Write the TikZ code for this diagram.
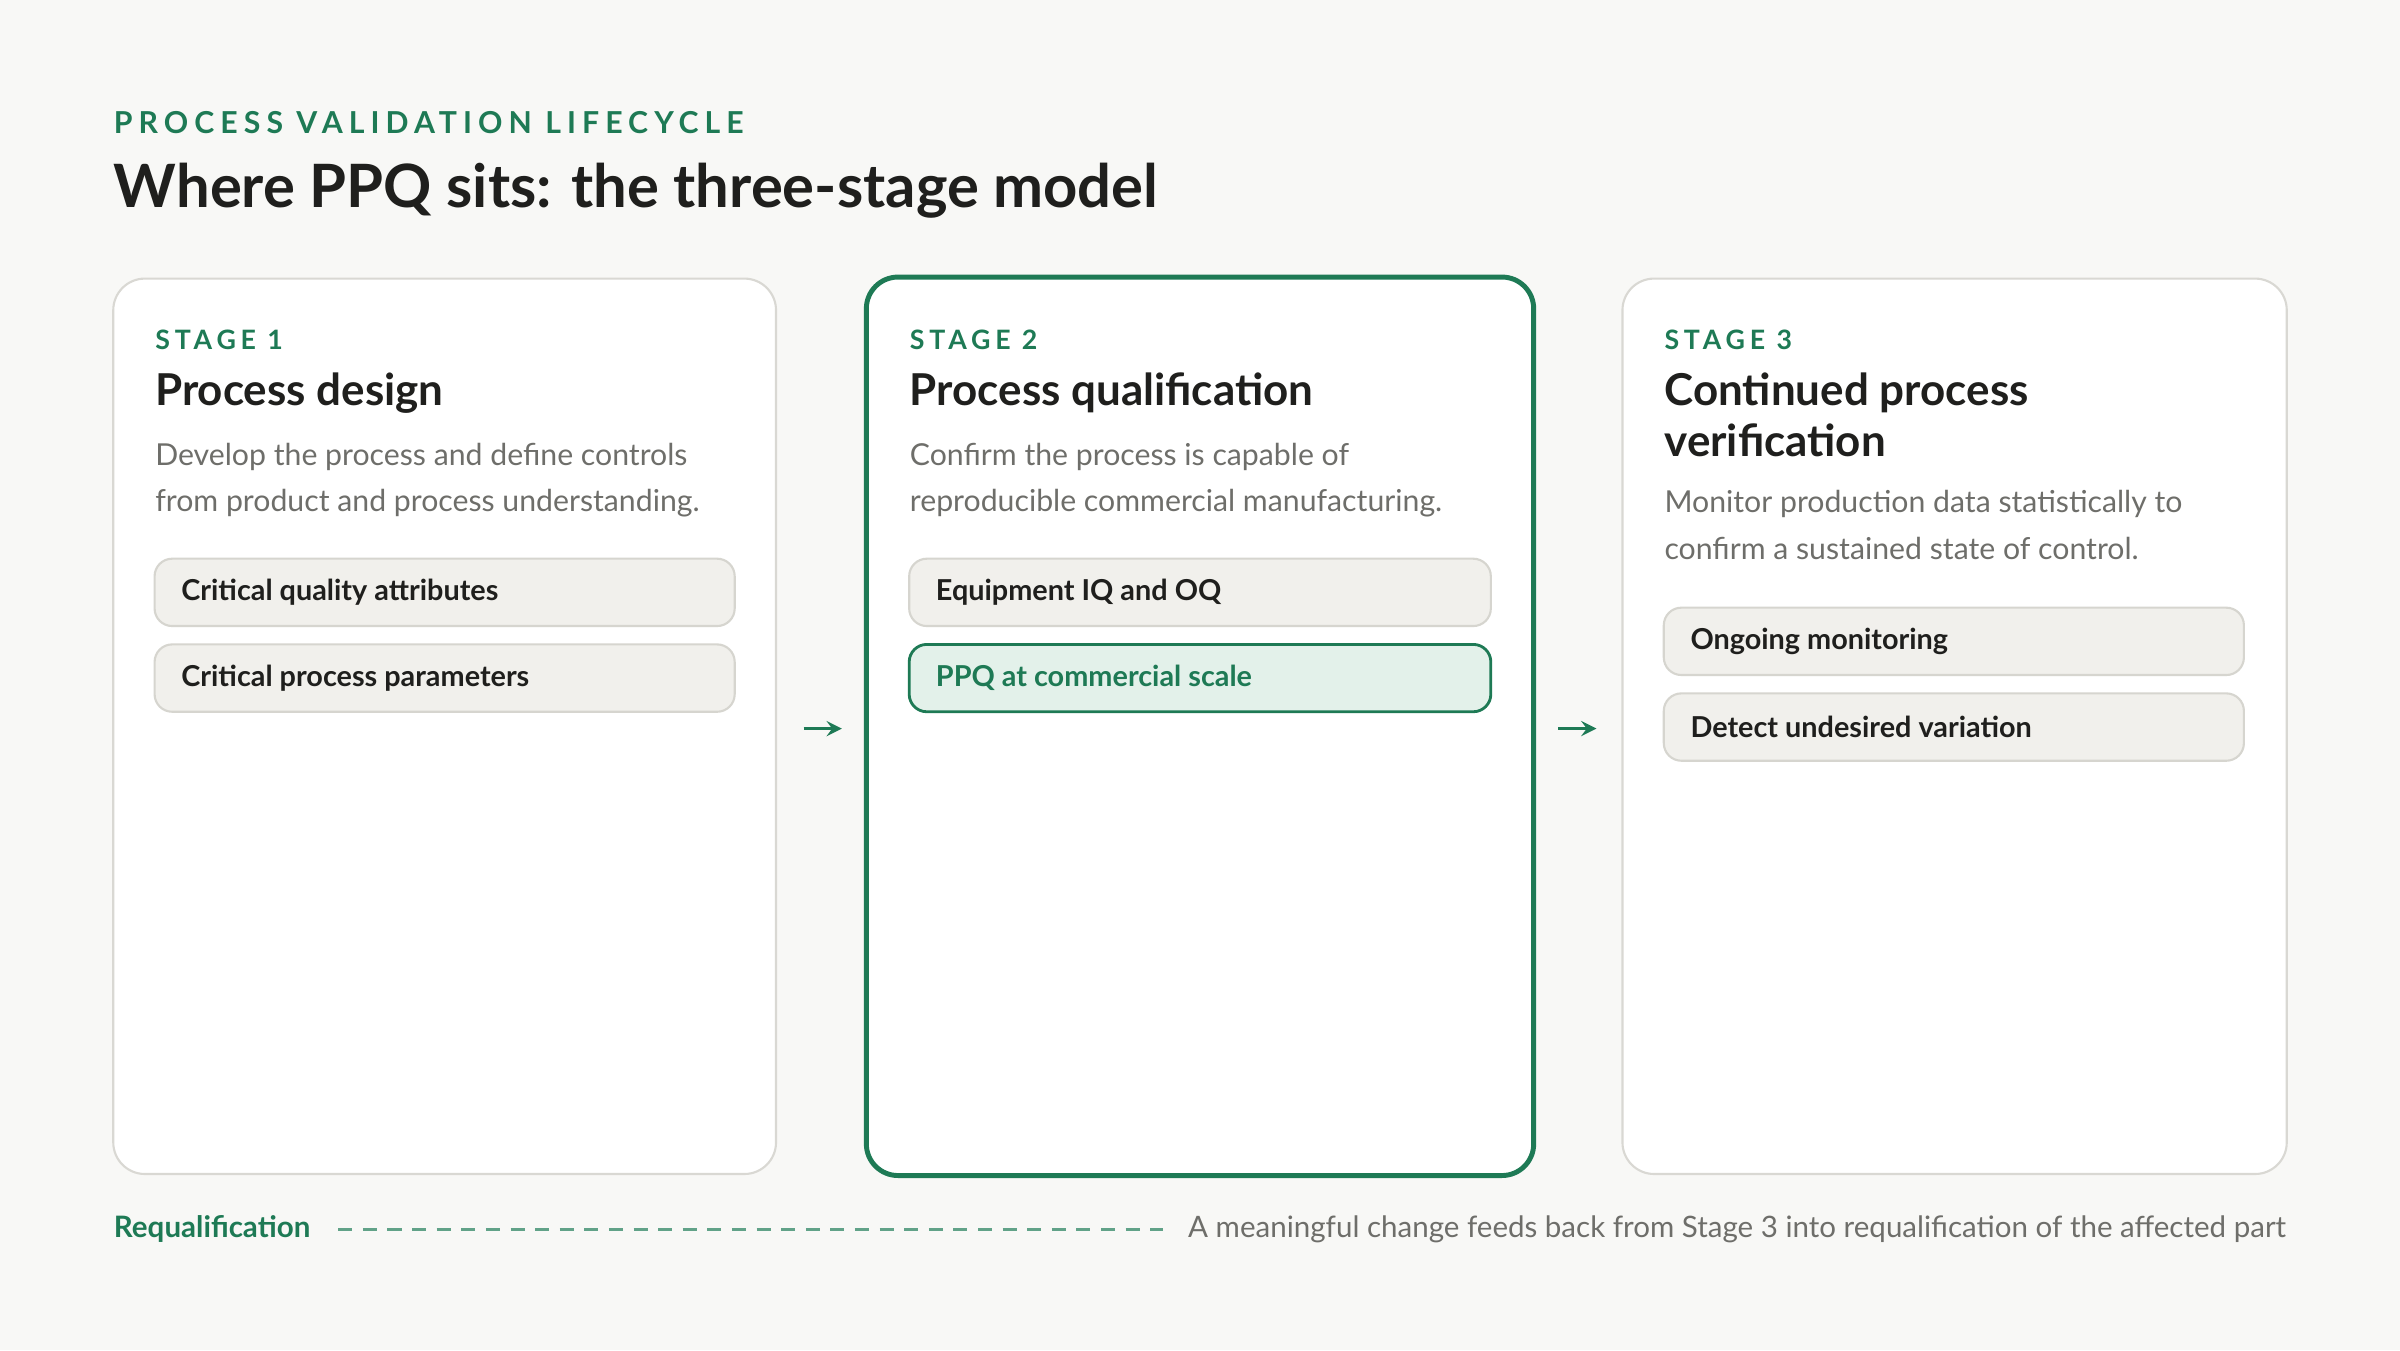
\documentclass[tikz,border=0pt]{standalone}
\usepackage{fontspec}
\setmainfont{Lato}
\usetikzlibrary{positioning}
\definecolor{bgpaper}{HTML}{F8F8F6}
\definecolor{pvgreen}{HTML}{1E7A55}
\definecolor{pvgray}{HTML}{6E6E6A}
\definecolor{pvink}{HTML}{1F1F1D}
\definecolor{pillfill}{HTML}{F1F0EC}
\definecolor{pillline}{HTML}{D6D5CF}
\definecolor{cardline}{HTML}{D9D8D3}
\definecolor{greenfill}{HTML}{E3F1EA}
\tikzset{
  card/.style={draw=cardline, fill=white, rounded corners=9pt, line width=0.6pt},
  keycard/.style={draw=pvgreen, fill=white, rounded corners=9pt, line width=1.4pt},
  stagetag/.style={anchor=north west, inner sep=0, text=pvgreen, font=\fontsize{7.6}{9}\selectfont\bfseries\addfontfeatures{LetterSpace=18}},
  stagehead/.style={anchor=north west, inner sep=0, text=pvink, align=left, font=\fontsize{12.5}{14.5}\selectfont\bfseries},
  stagetext/.style={anchor=north west, inner sep=0, text=pvgray, align=left, font=\fontsize{8.6}{13.2}\selectfont},
  pill/.style={draw=pillline, fill=pillfill, rounded corners=5pt, line width=0.6pt},
  keypill/.style={draw=pvgreen, fill=greenfill, rounded corners=5pt, line width=0.8pt},
  pilltext/.style={anchor=west, inner sep=0, text=pvink, font=\fontsize{8.2}{10}\selectfont\bfseries},
  stepArrow/.style={->, >=stealth, draw=pvgreen, line width=0.9pt},
}
\begin{document}
\begin{tikzpicture}[x=0.01531cm, y=-0.01531cm]
\fill[bgpaper] (0,0) rectangle (1568,882);
\useasboundingbox (0,0) rectangle (1568,882);

% heading
\node[stagetag, font=\fontsize{8.6}{10}\selectfont\bfseries\addfontfeatures{LetterSpace=20}] (kicker) at (74,72) {PROCESS VALIDATION LIFECYCLE};
\node[stagehead, font=\fontsize{17}{20}\selectfont\bfseries] (title) at (74,106) {Where PPQ sits: the three-stage model};

% cards
\draw[card] (74,182) rectangle (507,767);
\draw[keycard] (566,181) rectangle (1002,768);
\draw[card] (1060,182) rectangle (1494,767);

% stage 1
\node[stagetag] (tag1) at (101,215) {STAGE 1};
\node[stagehead] (head1) at (101,243) {Process design};
\node[stagetext] (text1) at (101,289) {Develop the process and define controls\\from product and process understanding.};
\draw[pill] (101,365) rectangle (480,409);
\node[pilltext] (p11) at (118,387) {Critical quality attributes};
\draw[pill] (101,421) rectangle (480,465);
\node[pilltext] (p12) at (118,443) {Critical process parameters};

% stage 2
\node[stagetag] (tag2) at (594,215) {STAGE 2};
\node[stagehead] (head2) at (594,243) {Process qualification};
\node[stagetext] (text2) at (594,289) {Confirm the process is capable of\\reproducible commercial manufacturing.};
\draw[pill] (594,365) rectangle (974,409);
\node[pilltext] (p21) at (611,387) {Equipment IQ and OQ};
\draw[keypill] (594,421) rectangle (974,465);
\node[pilltext, text=pvgreen] (p22) at (611,443) {PPQ at commercial scale};

% stage 3
\node[stagetag] (tag3) at (1087,215) {STAGE 3};
\node[stagehead] (head3) at (1087,243) {Continued process\\verification};
\node[stagetext] (text3) at (1087,320) {Monitor production data statistically to\\confirm a sustained state of control.};
\draw[pill] (1087,397) rectangle (1466,441);
\node[pilltext] (p31) at (1104,419) {Ongoing monitoring};
\draw[pill] (1087,453) rectangle (1466,497);
\node[pilltext] (p32) at (1104,475) {Detect undesired variation};

% arrows between stages
\coordinate (a1s) at (525,476); \coordinate (a1e) at (550,476);
\coordinate (a2s) at (1018,476); \coordinate (a2e) at (1043,476);
\draw[stepArrow] (a1s) -- (a1e);
\draw[stepArrow] (a2s) -- (a2e);

% requalification loop
\node[pilltext, text=pvgreen, font=\fontsize{8.4}{10}\selectfont\bfseries] (requal) at (74,803) {Requalification};
\node[anchor=east, inner sep=0, text=pvgray, font=\fontsize{8.4}{10}\selectfont] (note) at (1494,803) {A meaningful change feeds back from Stage 3 into requalification of the affected part};
\coordinate (dashs) at (221,803); \coordinate (dashe) at (760,803);
\draw[pvgreen!70, line width=0.8pt, dash pattern=on 4pt off 3pt] (dashs) -- (dashe);
\end{tikzpicture}
\end{document}
